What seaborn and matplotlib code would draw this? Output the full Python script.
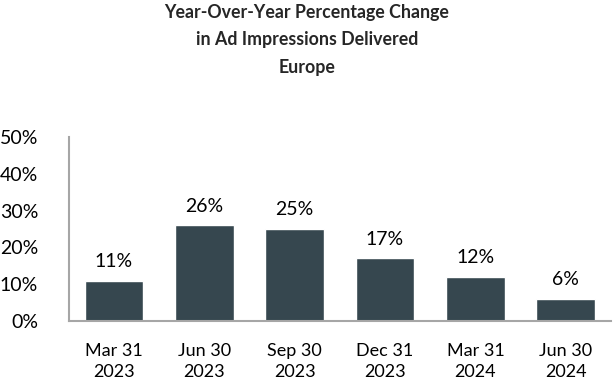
import matplotlib
matplotlib.use("Agg")
import matplotlib.pyplot as plt
import seaborn as sns
import pandas as pd

categories = ["Mar 31\n2023", "Jun 30\n2023", "Sep 30\n2023", "Dec 31\n2023", "Mar 31\n2024", "Jun 30\n2024"]
values = [11, 26, 25, 17, 12, 6]
yticks = [0, 10, 20, 30, 40, 50]
ytick_labels = ["0%", "10%", "20%", "30%", "40%", "50%"]
title = "Year-Over-Year Percentage Change\nin Ad Impressions Delivered\nEurope"

sns.set_style("white")
plt.rcParams['font.family'] = ['Lato', 'DejaVu Sans']

df = pd.DataFrame({"cat": categories, "val": values})

fig = plt.figure(figsize=(6.14, 3.84), dpi=100)
ax = fig.add_axes([0.112, 0.164, 0.883, 0.479])
sns.barplot(data=df, x="cat", y="val", color="#36474f", width=0.65, saturation=1, ax=ax)

ax.set_xlim(-0.5, len(categories) - 0.5)
ax.set_ylim(0, 50)
ax.set_yticks(yticks)
ax.set_yticklabels(ytick_labels, fontsize=14)
ax.tick_params(axis='y', length=0, pad=22, labelcolor="black")
ax.tick_params(axis='x', length=0, pad=16, labelsize=13, labelcolor="black")
for lbl in ax.get_xticklabels():
    lbl.set_linespacing(1.35)
ax.set_xlabel("")
ax.set_ylabel("")
for s in ["top", "right"]:
    ax.spines[s].set_visible(False)
for s in ["left", "bottom"]:
    ax.spines[s].set_color("#a6a6a6")
    ax.spines[s].set_linewidth(1.5)

for i, v in enumerate(values):
    ax.text(i, v + 2.9, f"{v}%", ha="center", va="bottom", fontsize=14, color="black")

fig.text(0.5, 0.99, title, ha="center", va="top", fontsize=12.8, fontweight="bold", linespacing=1.75)

fig.savefig("out.png", dpi=100)
